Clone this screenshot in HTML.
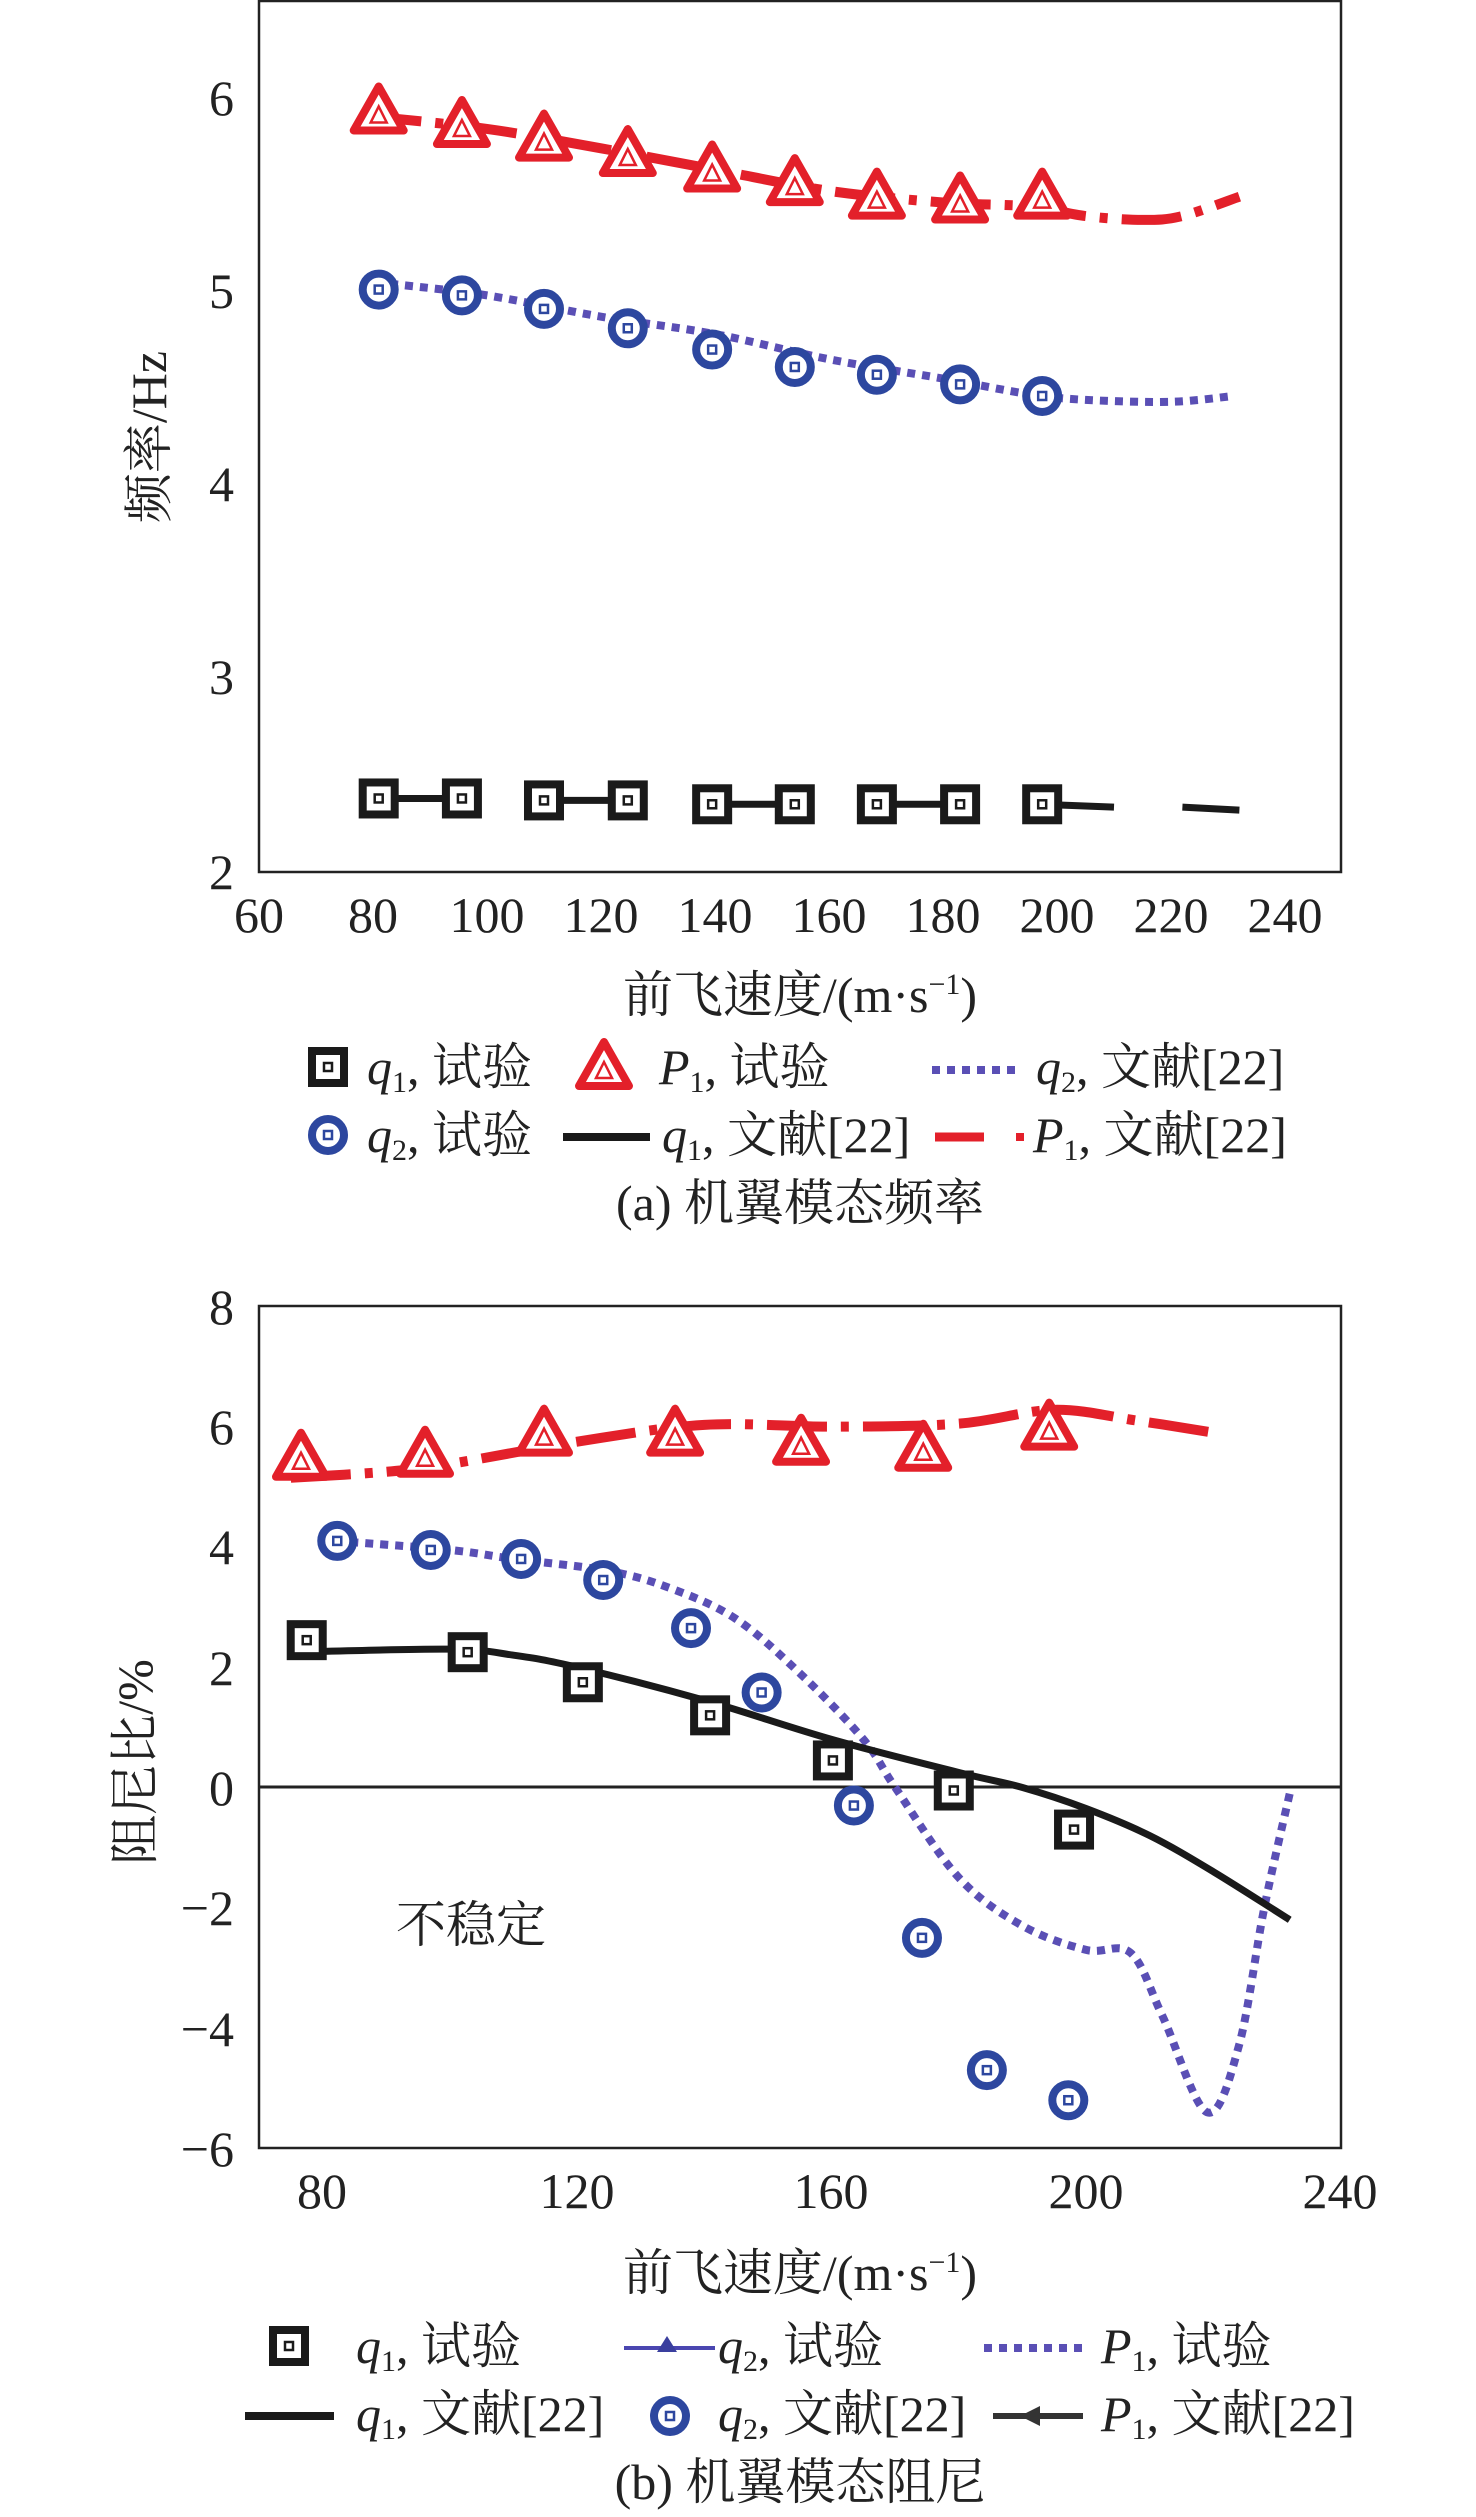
<!DOCTYPE html>
<html><head><meta charset="utf-8"><style>
html,body{margin:0;padding:0;background:#fff;}
svg{display:block;}
text{font-family:"Liberation Serif","Noto Serif CJK SC",serif;fill:#222;}
.t{font-size:50px;}
.l{font-size:50px;}
</style></head><body>
<svg id="s" width="1476" height="2517" viewBox="0 0 1476 2517" xmlns="http://www.w3.org/2000/svg">
<defs>
<g id="sq"><rect x="-16" y="-16" width="32" height="32" fill="#fff" stroke="#1a1a1a" stroke-width="8"/><rect x="-4" y="-4" width="8" height="8" fill="none" stroke="#1a1a1a" stroke-width="2.5"/></g>
<g id="tr"><polygon points="0,-27 25,17 -25,17" fill="#fff" stroke="#e3202a" stroke-width="8" stroke-linejoin="round"/><polygon points="0,-7 8,9 -8,9" fill="none" stroke="#e3202a" stroke-width="2.5"/></g>
<g id="ci"><circle r="16" fill="#fff" stroke="#2d479f" stroke-width="8"/><rect x="-4" y="-4" width="8" height="8" fill="none" stroke="#2d479f" stroke-width="2.5"/></g>
</defs>

<!-- Chart a -->
<rect x="259" y="1" width="1082" height="871" fill="none" stroke="#222" stroke-width="2.5"/>
<g id="ga"></g>
<g class="t" text-anchor="end">
<text x="234" y="115">6</text><text x="234" y="308">5</text><text x="234" y="501">4</text><text x="234" y="694">3</text><text x="234" y="889">2</text>
</g>
<g class="t" text-anchor="middle">
<text x="259" y="932">60</text><text x="373" y="932">80</text><text x="487" y="932">100</text><text x="601" y="932">120</text><text x="715" y="932">140</text><text x="829" y="932">160</text><text x="943" y="932">180</text><text x="1057" y="932">200</text><text x="1171" y="932">220</text><text x="1285" y="932">240</text>
</g>
<text class="l" x="800" y="1012" text-anchor="middle">前飞速度/(m·s<tspan font-size="30" dy="-18">−1</tspan><tspan dy="18">)</tspan></text>
<text class="l" transform="translate(166,437) rotate(-90)" text-anchor="middle">频率/Hz</text>
<!-- legend a -->
<use href="#sq" x="328" y="1067"/>
<text class="l" x="367" y="1084"><tspan font-style="italic">q</tspan><tspan font-size="30" dy="8">1</tspan><tspan dy="-8">, 试验</tspan></text>
<use href="#tr" x="604" y="1069"/>
<text class="l" x="659" y="1084"><tspan font-style="italic">P</tspan><tspan font-size="30" dy="8">1</tspan><tspan dy="-8">, 试验</tspan></text>
<line x1="932" y1="1070" x2="1017" y2="1070" stroke="#5a4fb5" stroke-width="8" stroke-dasharray="8 7"/>
<text class="l" x="1036" y="1084"><tspan font-style="italic">q</tspan><tspan font-size="30" dy="8">2</tspan><tspan dy="-8">, 文献[22]</tspan></text>
<use href="#ci" x="328" y="1135"/>
<text class="l" x="367" y="1152"><tspan font-style="italic">q</tspan><tspan font-size="30" dy="8">2</tspan><tspan dy="-8">, 试验</tspan></text>
<line x1="563" y1="1137" x2="650" y2="1137" stroke="#1a1a1a" stroke-width="8"/>
<text class="l" x="662" y="1152"><tspan font-style="italic">q</tspan><tspan font-size="30" dy="8">1</tspan><tspan dy="-8">, 文献[22]</tspan></text>
<line x1="935" y1="1137" x2="984" y2="1137" stroke="#e3202a" stroke-width="9"/>
<rect x="1016" y="1133" width="8" height="8" fill="#e3202a"/>
<text class="l" x="1033" y="1152"><tspan font-style="italic">P</tspan><tspan font-size="30" dy="8">1</tspan><tspan dy="-8">, 文献[22]</tspan></text>
<text class="l" x="800" y="1220" text-anchor="middle">(a) 机翼模态频率</text>

<!-- Chart b -->
<rect x="259" y="1306" width="1082" height="842" fill="none" stroke="#222" stroke-width="2.5"/>
<line x1="259" y1="1787" x2="1341" y2="1787" stroke="#222" stroke-width="3"/>
<g id="gb"></g>
<g class="t" text-anchor="end">
<text x="234" y="1324">8</text><text x="234" y="1444">6</text><text x="234" y="1564">4</text><text x="234" y="1685">2</text><text x="234" y="1805">0</text><text x="234" y="1925">−2</text><text x="234" y="2046">−4</text><text x="234" y="2166">−6</text>
</g>
<g class="t" text-anchor="middle">
<text x="322" y="2208">80</text><text x="577" y="2208">120</text><text x="831" y="2208">160</text><text x="1086" y="2208">200</text><text x="1340" y="2208">240</text>
</g>
<text class="l" x="800" y="2290" text-anchor="middle">前飞速度/(m·s<tspan font-size="30" dy="-18">−1</tspan><tspan dy="18">)</tspan></text>
<text class="l" transform="translate(152,1762) rotate(-90)" text-anchor="middle">阻尼比/%</text>
<text class="l" x="471" y="1942" text-anchor="middle">不稳定</text>
<!-- legend b -->
<use href="#sq" x="289" y="2346"/>
<text class="l" x="356" y="2363"><tspan font-style="italic">q</tspan><tspan font-size="30" dy="8">1</tspan><tspan dy="-8">, 试验</tspan></text>
<line x1="624" y1="2348" x2="715" y2="2348" stroke="#4a46b0" stroke-width="4"/>
<polygon points="667,2336 677,2352 657,2352" fill="#3a3f9e"/>
<text class="l" x="718" y="2363"><tspan font-style="italic">q</tspan><tspan font-size="30" dy="8">2</tspan><tspan dy="-8">, 试验</tspan></text>
<line x1="984" y1="2348" x2="1083" y2="2348" stroke="#5a4fb5" stroke-width="8" stroke-dasharray="8 7"/>
<text class="l" x="1101" y="2363"><tspan font-style="italic">P</tspan><tspan font-size="30" dy="8">1</tspan><tspan dy="-8">, 试验</tspan></text>
<line x1="245" y1="2416" x2="334" y2="2416" stroke="#1a1a1a" stroke-width="8"/>
<text class="l" x="356" y="2431"><tspan font-style="italic">q</tspan><tspan font-size="30" dy="8">1</tspan><tspan dy="-8">, 文献[22]</tspan></text>
<use href="#ci" x="670" y="2416"/>
<text class="l" x="718" y="2431"><tspan font-style="italic">q</tspan><tspan font-size="30" dy="8">2</tspan><tspan dy="-8">, 文献[22]</tspan></text>
<line x1="993" y1="2416" x2="1083" y2="2416" stroke="#333" stroke-width="6"/>
<polygon points="1020,2416 1040,2406 1040,2426" fill="#333"/>
<text class="l" x="1101" y="2431"><tspan font-style="italic">P</tspan><tspan font-size="30" dy="8">1</tspan><tspan dy="-8">, 文献[22]</tspan></text>
<text class="l" x="800" y="2499" text-anchor="middle">(b) 机翼模态阻尼</text>
</svg>
<script>
(function(){
var NS="http://www.w3.org/2000/svg";
function el(p,n,a){var e=document.createElementNS(NS,n);for(var k in a)e.setAttribute(k,a[k]);p.appendChild(e);return e;}
function smooth(pts){var d="M"+pts[0][0]+","+pts[0][1];for(var i=0;i<pts.length-1;i++){var p0=pts[i-1]||pts[i],p1=pts[i],p2=pts[i+1],p3=pts[i+2]||p2;
d+=" C"+(p1[0]+(p2[0]-p0[0])/6)+","+(p1[1]+(p2[1]-p0[1])/6)+" "+(p2[0]-(p3[0]-p1[0])/6)+","+(p2[1]-(p3[1]-p1[1])/6)+" "+p2[0]+","+p2[1];}return d;}
var ga=document.getElementById("ga");
function ax(v){return 259+(v-60)*5.7;} function ay(f){return 872-(f-2)*193.5;}
function mp(arr,fx,fy){return arr.map(function(p){return [fx(p[0]),fy(p[1])];});}
el(ga,"path",{d:smooth(mp([[78,5.91],[100,5.84],[120,5.74],[140,5.63],[160,5.52],[180,5.46],[195,5.44],[205,5.39],[215,5.37],[222,5.39],[232,5.49]],ax,ay)),fill:"none",stroke:"#e3202a","stroke-width":10,"stroke-dasharray":"60 14 8 14"});
el(ga,"path",{d:smooth(mp([[83,5.04],[100,4.98],[120,4.87],[140,4.78],[160,4.65],[180,4.55],[195,4.47],[205,4.44],[220,4.43],[231,4.46]],ax,ay)),fill:"none",stroke:"#5a4fb5","stroke-width":8,"stroke-dasharray":"8 7"});
var tv=[81,95.6,110,124.7,139.5,154,168.4,183,197.4];
var sqf=[2.38,2.38,2.37,2.37,2.35,2.35,2.35,2.35,2.35];
for(var i=0;i<8;i+=2) el(ga,"line",{x1:ax(tv[i]),y1:ay(sqf[i]),x2:ax(tv[i+1]),y2:ay(sqf[i+1]),stroke:"#1a1a1a","stroke-width":7});
el(ga,"line",{x1:ax(197),y1:ay(2.35),x2:ax(210),y2:ay(2.335),stroke:"#1a1a1a","stroke-width":7});
el(ga,"line",{x1:ax(222),y1:ay(2.335),x2:ax(232),y2:ay(2.32),stroke:"#1a1a1a","stroke-width":7});
var trf=[5.92,5.85,5.78,5.7,5.62,5.55,5.48,5.46,5.48];
var cif=[5.01,4.98,4.91,4.81,4.7,4.61,4.57,4.52,4.46];
tv.forEach(function(v,i){el(ga,"use",{href:"#sq",x:ax(v),y:ay(sqf[i])});el(ga,"use",{href:"#ci",x:ax(v),y:ay(cif[i])});el(ga,"use",{href:"#tr",x:ax(v),y:ay(trf[i])});});
var gb=document.getElementById("gb");
function bx(v){return 259+(v-70)*6.3625;} function by(d){return 1787.5-d*60.14;}
el(gb,"path",{d:smooth(mp([[75,5.15],[90,5.25],[100,5.38],[120,5.75],[140,6.03],[160,6.0],[180,6.05],[195,6.28],[208,6.1],[220,5.9]],bx,by)),fill:"none",stroke:"#e3202a","stroke-width":10,"stroke-dasharray":"60 14 8 14"});
el(gb,"path",{d:smooth(mp([[82,4.1],[100,3.95],[110,3.8],[125,3.6],[135,3.3],[145,2.8],[155,1.9],[165,0.8],[170,0],[180,-1.5],[190,-2.3],[200,-2.7],[207,-2.75],[212,-3.8],[219,-5.4],[224,-4.3],[228,-2],[232,-0.1]],bx,by)),fill:"none",stroke:"#5a4fb5","stroke-width":8,"stroke-dasharray":"8 7"});
el(gb,"path",{d:smooth(mp([[75,2.25],[100,2.3],[110,2.2],[120,2.0],[140,1.45],[160,0.8],[180,0.25],[190,0],[200,-0.35],[210,-0.8],[220,-1.4],[232,-2.2]],bx,by)),fill:"none",stroke:"#1a1a1a","stroke-width":7});
[[76.6,5.45],[96.1,5.5],[114.8,5.85],[135.4,5.85],[155.2,5.7],[174.4,5.6],[194.2,5.95]].forEach(function(p){el(gb,"use",{href:"#tr",x:bx(p[0]),y:by(p[1])});});
[[82.3,4.1],[97,3.95],[111.2,3.8],[124.1,3.45],[137.9,2.65],[149,1.58],[163.5,-0.3],[174.2,-2.5],[184.4,-4.7],[197.2,-5.2]].forEach(function(p){el(gb,"use",{href:"#ci",x:bx(p[0]),y:by(p[1])});});
[[77.5,2.45],[102.8,2.25],[120.9,1.75],[140.9,1.2],[160.2,0.45],[179.2,-0.05],[198.1,-0.7]].forEach(function(p){el(gb,"use",{href:"#sq",x:bx(p[0]),y:by(p[1])});});
})();
</script>
</body></html>
